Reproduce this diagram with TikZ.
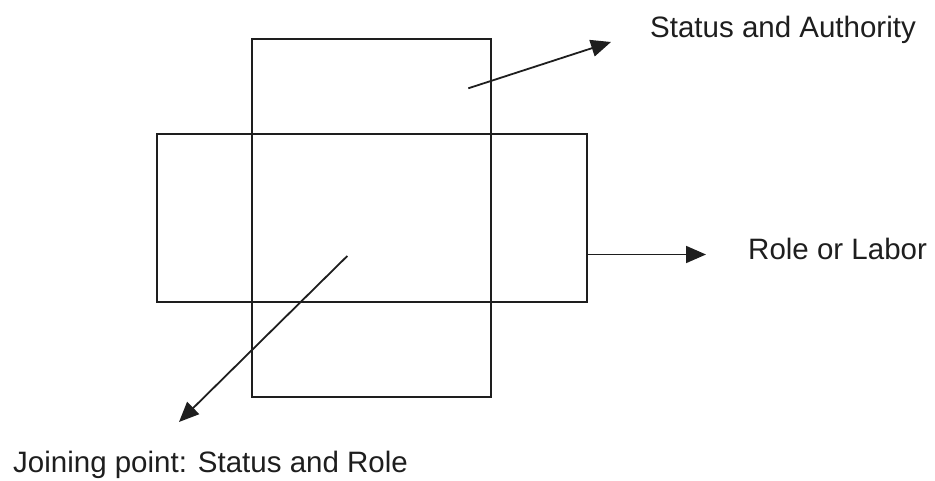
\documentclass[tikz,border=0pt]{standalone}
\usepackage{fontspec}
\setmainfont{Liberation Sans}
\usetikzlibrary{arrows.meta}
\definecolor{ink}{HTML}{1E1E1E}
\begin{document}
\begin{tikzpicture}[x=1pt,y=-1pt,
  box/.style={draw=ink, line width=1.9pt, rectangle, inner sep=0pt, minimum width=#1},
  lbl/.style={anchor=base west, inner sep=0pt, text=ink, font=\fontsize{29.5}{34}\selectfont},
  arr/.style={draw=ink, line width=1.8pt, -{Triangle[length=20pt, width=17pt]}}]
\useasboundingbox (0,0) rectangle (935,481);
\node[box=238.4pt, minimum height=358.3pt] (vr) at (371.5,218.2) {};
\node[box=430.3pt, minimum height=167.4pt] (hr) at (371.85,218) {};
\coordinate (a1s) at (468.3,88.3);
\coordinate (a1e) at (611,42);
\coordinate (a2s) at (587,254.5);
\coordinate (a2e) at (706,254.5);
\coordinate (a3s) at (347.3,256);
\coordinate (a3e) at (179,422);
\node[lbl] (t1) at (650,38) {Status and Authority};
\node[lbl] (t2) at (748,260) {Role or Labor};
\node[lbl] (t3) at (13,472) {Joining point: Status and Role};
\draw[arr] (a1s) -- (a1e);
\draw[arr] (a2s) -- (a2e);
\draw[arr] (a3s) -- (a3e);
\end{tikzpicture}
\end{document}
